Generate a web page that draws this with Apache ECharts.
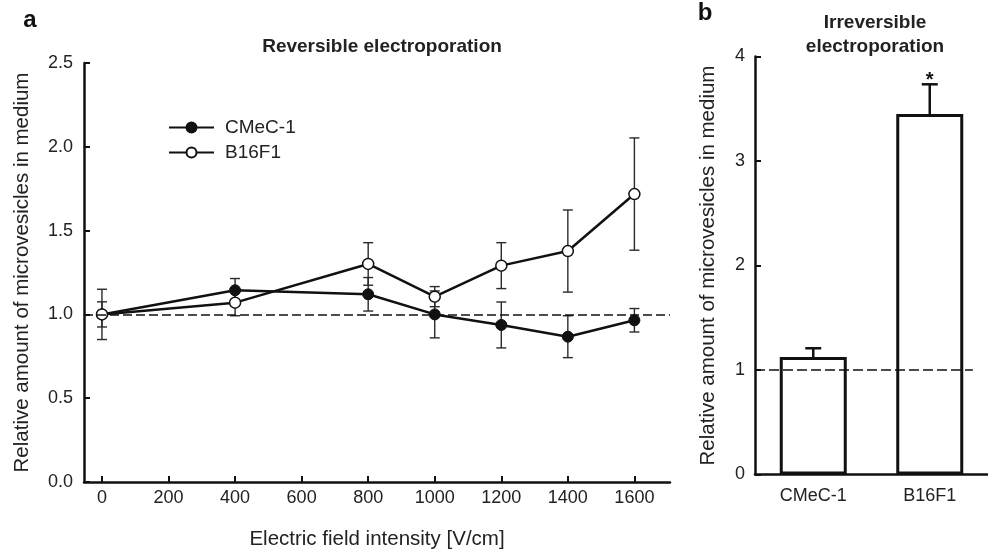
<!DOCTYPE html>
<html>
<head>
<meta charset="utf-8">
<script src="https://cdn.jsdelivr.net/npm/echarts@6/dist/echarts.min.js"></script>
<style>
  html, body { margin: 0; padding: 0; background: #fff; }
  #chart { width: 988px; height: 552px; }
</style>
</head>
<body>
<div id="chart"></div>
<script>
// panel a: reversible electroporation
const fieldVals = [0, 400, 800, 1000, 1200, 1400, 1600];
const cmecVals = [1.00, 1.144, 1.12, 1.00, 0.937, 0.867, 0.965];
const cmecErr = [0.075, 0.07, 0.10, 0.14, 0.137, 0.125, 0.07];
const b16Vals = [1.00, 1.07, 1.301, 1.106, 1.291, 1.378, 1.718];
const b16Err = [0.15, 0.078, 0.127, 0.06, 0.137, 0.245, 0.335];
const fieldTicks = [0, 200, 400, 600, 800, 1000, 1200, 1400, 1600];

// panel b: irreversible electroporation
const barCats = ['CMeC-1', 'B16F1'];
const barVals = [1.124, 3.45];
const barErr = [0.084, 0.284];
const barSig = [false, true];

const font = 'Liberation Sans, Arial, sans-serif';
const ink = '#111';
const txt = '#222';

const chart = echarts.init(document.getElementById('chart'));

function errBars(params, api) {
    const x = api.value(0), v = api.value(1), e = api.value(2);
    const top = api.coord([x, v + e]);
    const bot = api.coord([x, v - e]);
    const w = 5;
    const st = { stroke: '#2a2a2a', lineWidth: 1.4 };
    return {
        type: 'group',
        children: [
            { type: 'line', shape: { x1: top[0], y1: top[1], x2: bot[0], y2: bot[1] }, style: st },
            { type: 'line', shape: { x1: top[0] - w, y1: top[1], x2: top[0] + w, y2: top[1] }, style: st },
            { type: 'line', shape: { x1: bot[0] - w, y1: bot[1], x2: bot[0] + w, y2: bot[1] }, style: st }
        ]
    };
}

function barErrBars(params, api) {
    const i = params.dataIndex;
    const x = api.value(0), v = api.value(1), e = api.value(2);
    const base = api.coord([x, v]);
    const top = api.coord([x, v + e]);
    const w = 8;
    const st = { stroke: ink, lineWidth: 2.5 };
    const kids = [
        { type: 'line', shape: { x1: base[0], y1: base[1], x2: top[0], y2: top[1] }, style: st },
        { type: 'line', shape: { x1: top[0] - w, y1: top[1], x2: top[0] + w, y2: top[1] }, style: st }
    ];
    if (barSig[i]) {
        kids.push({
            type: 'text',
            style: { text: '*', x: top[0], y: top[1] - 4, align: 'center', verticalAlign: 'middle',
                font: 'bold 20px ' + font, fill: ink }
        });
    }
    return { type: 'group', children: kids };
}

chart.setOption({
    animation: false,
    backgroundColor: '#fff',
    textStyle: { fontFamily: font, color: txt },
    graphic: [
        { type: 'text', x: 30, y: 20, style: { text: 'a', font: 'bold 24px ' + font, fill: ink, align: 'center', verticalAlign: 'middle' } },
        { type: 'text', x: 705, y: 13, style: { text: 'b', font: 'bold 24px ' + font, fill: ink, align: 'center', verticalAlign: 'middle' } },
        { type: 'text', x: 382, y: 47, style: { text: 'Reversible electroporation', font: 'bold 19px ' + font, fill: txt, align: 'center', verticalAlign: 'middle' } },
        { type: 'text', x: 875, y: 35, style: { text: 'Irreversible\nelectroporation', font: 'bold 19px ' + font, lineHeight: 24, fill: txt, align: 'center', verticalAlign: 'middle' } }
    ],
    legend: {
        data: ['CMeC-1', 'B16F1'],
        orient: 'vertical',
        left: 163,
        top: 113,
        itemWidth: 45,
        itemHeight: 12.5,
        itemGap: 6,
        textStyle: { fontSize: 19, color: txt, padding: [0, 0, 0, 6] }
    },
    grid: [
        { left: 84, top: 63, width: 586, height: 419, outerBoundsMode: 'none' },
        { left: 755, top: 56.5, width: 233, height: 418, outerBoundsMode: 'none' }
    ],
    xAxis: [
        {
            gridIndex: 0,
            type: 'value',
            min: -54,
            max: 1707,
            name: 'Electric field intensity [V/cm]',
            nameLocation: 'middle',
            nameGap: 47,
            nameTextStyle: { fontSize: 20.5, color: txt },
            axisLine: { onZero: false, lineStyle: { color: ink, width: 2.5 } },
            axisTick: { inside: true, length: 6, customValues: fieldTicks, lineStyle: { color: ink, width: 2 } },
            axisLabel: { customValues: fieldTicks, fontSize: 18, color: txt, margin: 7, formatter: v => String(v) },
            splitLine: { show: false }
        },
        {
            gridIndex: 1,
            type: 'value',
            min: -0.5,
            max: 1.5,
            axisLine: { onZero: false, lineStyle: { color: ink, width: 2.5 } },
            axisTick: { show: false },
            axisLabel: { customValues: [0, 1], fontSize: 18, color: txt, margin: 13,
                formatter: v => barCats[Math.round(v)] },
            splitLine: { show: false }
        }
    ],
    yAxis: [
        {
            gridIndex: 0,
            type: 'value',
            min: 0,
            max: 2.5,
            interval: 0.5,
            name: 'Relative amount of microvesicles in medium',
            nameLocation: 'middle',
            nameGap: 51,
            nameTextStyle: { fontSize: 20.5, color: txt },
            axisLine: { show: true, onZero: false, lineStyle: { color: ink, width: 2.5 } },
            axisTick: { show: true, inside: true, length: 6, lineStyle: { color: ink, width: 2 } },
            axisLabel: { fontSize: 18, color: txt, margin: 11, formatter: v => v.toFixed(1) },
            splitLine: { show: false }
        },
        {
            gridIndex: 1,
            type: 'value',
            min: 0,
            max: 4,
            interval: 1,
            name: 'Relative amount of microvesicles in medium',
            nameLocation: 'middle',
            nameGap: 36,
            nameTextStyle: { fontSize: 20.5, color: txt },
            axisLine: { show: true, onZero: false, lineStyle: { color: ink, width: 2.5 } },
            axisTick: { show: true, inside: true, length: 6, lineStyle: { color: ink, width: 2 } },
            axisLabel: { fontSize: 18, color: txt, margin: 10 },
            splitLine: { show: false }
        }
    ],
    series: [
        {
            name: 'CMeC-1 err',
            type: 'custom',
            xAxisIndex: 0, yAxisIndex: 0,
            z: 1,
            renderItem: errBars,
            encode: { x: 0, y: 1 },
            data: fieldVals.map((x, i) => [x, cmecVals[i], cmecErr[i]])
        },
        {
            name: 'B16F1 err',
            type: 'custom',
            xAxisIndex: 0, yAxisIndex: 0,
            z: 1,
            renderItem: errBars,
            encode: { x: 0, y: 1 },
            data: fieldVals.map((x, i) => [x, b16Vals[i], b16Err[i]])
        },
        {
            name: 'CMeC-1',
            type: 'line',
            xAxisIndex: 0, yAxisIndex: 0,
            z: 3,
            symbol: 'circle',
            symbolSize: 11,
            itemStyle: { color: ink, borderColor: ink, borderWidth: 1 },
            lineStyle: { color: ink, width: 2.5 },
            data: fieldVals.map((x, i) => [x, cmecVals[i]]),
            markLine: {
                silent: true,
                symbol: 'none',
                label: { show: false },
                lineStyle: { type: [9, 4], color: ink, width: 1.6 },
                data: [{ yAxis: 1 }]
            }
        },
        {
            name: 'B16F1',
            type: 'line',
            xAxisIndex: 0, yAxisIndex: 0,
            z: 4,
            symbol: 'circle',
            symbolSize: 11,
            itemStyle: { color: '#fff', borderColor: ink, borderWidth: 1.5 },
            lineStyle: { color: ink, width: 2.5 },
            data: fieldVals.map((x, i) => [x, b16Vals[i]])
        },
        {
            name: 'Irreversible',
            type: 'bar',
            xAxisIndex: 1, yAxisIndex: 1,
            barWidth: 67,
            itemStyle: { color: '#fff', borderColor: ink, borderWidth: 3 },
            data: barVals.map((v, i) => [i, v]),
            markLine: {
                silent: true,
                symbol: 'none',
                label: { show: false },
                lineStyle: { type: [10, 4], color: ink, width: 1.6 },
                data: [[{ coord: [-0.5, 1] }, { coord: [1.37, 1] }]]
            }
        },
        {
            name: 'Irreversible err',
            type: 'custom',
            xAxisIndex: 1, yAxisIndex: 1,
            z: 3,
            renderItem: barErrBars,
            encode: { x: 0, y: 1 },
            data: barVals.map((v, i) => [i, v, barErr[i]])
        }
    ]
});
</script>
</body>
</html>
